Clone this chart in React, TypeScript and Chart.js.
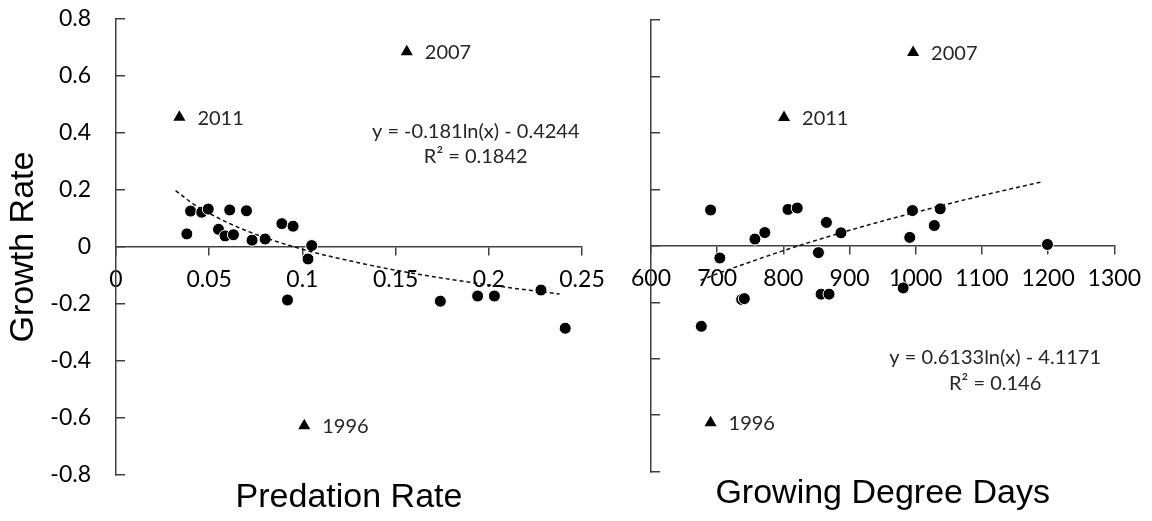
import { useEffect, useRef } from "react";
import { Chart, registerables } from "chart.js";

Chart.register(...registerables);

// ---------- data ----------
const growthTicks = [-0.8, -0.6, -0.4, -0.2, 0, 0.2, 0.4, 0.6, 0.8];
const growthTickLabels = ["-0.8", "-0.6", "-0.4", "-0.2", "0", "0.2", "0.4", "0.6", "0.8"];

const predationTicks = [0, 0.05, 0.1, 0.15, 0.2, 0.25];
const predationTickLabels = ["0", "0.05", "0.1", "0.15", "0.2", "0.25"];

const gddTicks = [600, 700, 800, 900, 1000, 1100, 1200, 1300];
const gddTickLabels = ["600", "700", "800", "900", "1000", "1100", "1200", "1300"];

// regular years (circles)
const predX = [0.038, 0.040, 0.046, 0.0495, 0.055, 0.0585, 0.061, 0.063, 0.070, 0.073, 0.080, 0.089, 0.095, 0.105, 0.103, 0.092, 0.174, 0.194, 0.203, 0.228, 0.241];
const predY = [0.046, 0.126, 0.122, 0.133, 0.062, 0.039, 0.130, 0.043, 0.127, 0.024, 0.028, 0.082, 0.073, 0.005, -0.042, -0.186, -0.190, -0.172, -0.172, -0.151, -0.285];

const gddX = [690, 704, 676, 737, 741, 757, 772, 807, 821, 853, 865, 857, 869, 887, 981, 991, 995, 1028, 1037, 1199];
const gddY = [0.127, -0.043, -0.285, -0.190, -0.187, 0.024, 0.047, 0.129, 0.134, -0.024, 0.083, -0.171, -0.171, 0.046, -0.149, 0.030, 0.125, 0.072, 0.131, 0.005];

// outlier years (triangles)
const outlierYears = ["2011", "2007", "1996"];
const outlierPred = [0.034, 0.156, 0.101];
const outlierGdd = [801, 996, 690];
const outlierGrowth = [0.455, 0.685, -0.627];

// trend lines
const predTrendX = [0.032, 0.04, 0.05, 0.07, 0.1, 0.13, 0.16, 0.2, 0.238];
const predTrendY = [0.198, 0.158, 0.118, 0.057, -0.008, -0.055, -0.093, -0.133, -0.165];
const gddTrendX = [675, 700, 750, 800, 850, 900, 950, 1000, 1100, 1191];
const gddTrendY = [-0.122, -0.099, -0.057, -0.017, 0.020, 0.055, 0.088, 0.119, 0.178, 0.227];

const predEquation = ["y = -0.181ln(x) - 0.4244", "R² = 0.1842"];
const gddEquation = ["y = 0.6133ln(x) - 4.1171", "R² = 0.146"];

// ---------- chart helpers ----------
const AXIS = "#404040";
const TICK_FONT = { family: "Lato", size: 23 };
const TITLE_FONT = { family: "'Liberation Sans', Arial, sans-serif", size: 34, lineHeight: 1, weight: "normal" };

const annotPlugin = {
  id: "annot",
  afterDatasetsDraw(chart: any, _args: any, opts: any) {
    const { ctx } = chart;
    const xs = chart.scales.x;
    const ys = chart.scales.y;
    ctx.save();
    ctx.fillStyle = "#262626";
    ctx.textBaseline = "middle";
    ctx.textAlign = "left";
    ctx.font = "20px Lato";
    opts.years.forEach((label: string, i: number) => {
      const px = xs.getPixelForValue(opts.xs[i]);
      const py = ys.getPixelForValue(opts.ys[i]);
      ctx.fillText(label, px + 18, py + 1);
    });
    ctx.textAlign = "center";
    ctx.font = "20px Lato";
    opts.eq.forEach((line: string, i: number) => {
      const px = xs.getPixelForValue(opts.eqPos[i][0]);
      const py = ys.getPixelForValue(opts.eqPos[i][1]);
      ctx.fillText(line, px, py);
    });
    ctx.restore();
  },
};

type Panel = {
  xMin: number;
  xMax: number;
  xTicks: number[];
  xLabels: string[];
  yWidth: number;
  yLabels: boolean;
  yTitle: string;
  padding: { left: number; top: number; right: number; bottom: number };
  title: string;
  titleTop: number;
  px: number[];
  py: number[];
  ox: number[];
  tx: number[];
  ty: number[];
  eq: string[];
  eqPos: number[][];
};

function makeChart(canvas: HTMLCanvasElement, p: Panel) {
  return new Chart(canvas, {
    type: "scatter",
    data: {
      datasets: [
        {
          data: p.tx.map((x, i) => ({ x, y: p.ty[i] })),
          showLine: true,
          borderColor: "#111",
          borderWidth: 1.5,
          borderDash: [4, 3],
          pointRadius: 0,
          cubicInterpolationMode: "monotone",
          fill: false,
        } as any,
        {
          data: p.px.map((x, i) => ({ x, y: p.py[i] })),
          pointRadius: 6,
          pointBackgroundColor: "#000",
          pointBorderColor: "#fff",
          pointBorderWidth: 1,
        },
        {
          data: p.ox.map((x, i) => ({ x, y: outlierGrowth[i] })),
          pointStyle: "triangle",
          pointRadius: 7,
          pointBackgroundColor: "#000",
          pointBorderWidth: 0,
        },
      ],
    },
    options: {
      animation: false,
      responsive: false,
      events: [],
      layout: { padding: p.padding },
      plugins: {
        legend: { display: false },
        tooltip: { enabled: false },
        title: {
          display: true,
          text: p.title,
          position: "bottom",
          fullSize: false,
          color: "#000",
          font: TITLE_FONT as any,
          padding: { top: p.titleTop, bottom: 0 },
        },
        annot: {
          years: outlierYears,
          xs: p.ox,
          ys: outlierGrowth,
          eq: p.eq,
          eqPos: p.eqPos,
        },
      } as any,
      scales: {
        x: {
          type: "linear",
          min: p.xMin,
          max: p.xMax,
          position: { y: 0 } as any,
          afterBuildTicks: (s: any) => {
            s.ticks = p.xTicks.map((v) => ({ value: v }));
          },
          ticks: {
            callback: (v: any) => {
              const i = p.xTicks.findIndex((t) => Math.abs(t - v) < 1e-9);
              return i >= 0 ? p.xLabels[i] : "";
            },
            font: TICK_FONT,
            color: "#000",
            padding: 11,
            maxRotation: 0,
            autoSkip: false,
          },
          grid: {
            drawOnChartArea: false,
            drawTicks: true,
            tickLength: 8,
            color: AXIS,
            lineWidth: 1.5,
          },
          border: { color: AXIS, width: 1.5 },
        },
        y: {
          type: "linear",
          min: -0.8,
          max: 0.8,
          afterBuildTicks: (s: any) => {
            s.ticks = growthTicks.map((v) => ({ value: v }));
          },
          afterFit: (s: any) => {
            s.width = p.yWidth;
            s.paddingTop = 0;
            s.paddingBottom = 0;
          },
          title: {
            display: p.yLabels,
            text: p.yTitle,
            color: "#000",
            font: TITLE_FONT as any,
            padding: { top: 7, bottom: 0 },
          },
          ticks: {
            display: p.yLabels,
            callback: (v: any) => {
              const i = growthTicks.findIndex((t) => Math.abs(t - v) < 1e-9);
              return i >= 0 ? growthTickLabels[i] : "";
            },
            font: TICK_FONT,
            color: "#000",
            padding: 34,
            autoSkip: false,
          },
          grid: {
            drawOnChartArea: false,
            drawTicks: true,
            tickLength: -9,
            color: AXIS,
            lineWidth: 1.5,
          },
          border: { color: AXIS, width: 1.5 },
        },
      },
    },
    plugins: [annotPlugin as any],
  });
}

const leftPanel: Panel = {
  xMin: 0,
  xMax: 0.25,
  xTicks: predationTicks,
  xLabels: predationTickLabels,
  yWidth: 116,
  yLabels: true,
  yTitle: "Growth Rate",
  padding: { left: 0, top: 19, right: 38, bottom: 6 },
  title: "Predation Rate",
  titleTop: 6,
  px: predX,
  py: predY,
  ox: outlierPred,
  tx: predTrendX,
  ty: predTrendY,
  eq: predEquation,
  eqPos: [
    [0.193, 0.405],
    [0.193, 0.317],
  ],
};

const rightPanel: Panel = {
  xMin: 600,
  xMax: 1300,
  xTicks: gddTicks,
  xLabels: gddTickLabels,
  yWidth: 51,
  yLabels: false,
  yTitle: "",
  padding: { left: 0, top: 20, right: 37.7, bottom: 10.8 },
  title: "Growing Degree Days",
  titleTop: 4.5,
  px: gddX,
  py: gddY,
  ox: outlierGdd,
  tx: gddTrendX,
  ty: gddTrendY,
  eq: gddEquation,
  eqPos: [
    [1120, -0.395],
    [1120, -0.486],
  ],
};

export default function App() {
  const leftRef = useRef<HTMLCanvasElement | null>(null);
  const rightRef = useRef<HTMLCanvasElement | null>(null);

  useEffect(() => {
    const a = makeChart(leftRef.current!, leftPanel);
    const b = makeChart(rightRef.current!, rightPanel);
    return () => {
      a.destroy();
      b.destroy();
    };
  }, []);

  return (
    <div style={{ position: "fixed", left: 0, top: 0, width: 1152, height: 521, background: "#fff", overflow: "hidden" }}>
      <canvas ref={leftRef} width={620} height={521} style={{ position: "absolute", left: 0, top: 0, width: 620, height: 521 }} />
      <canvas ref={rightRef} width={552} height={521} style={{ position: "absolute", left: 600, top: 0, width: 552, height: 521 }} />
    </div>
  );
}
